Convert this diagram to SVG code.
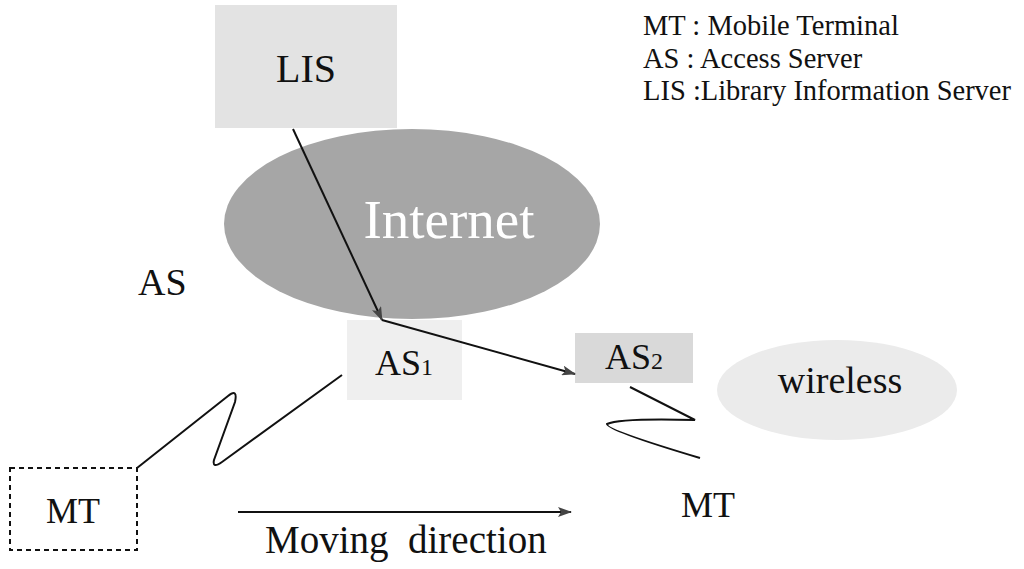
<svg xmlns="http://www.w3.org/2000/svg" width="1024" height="569" viewBox="0 0 1024 569">
<style>
text{font-family:"Liberation Serif","Times New Roman",serif;fill:#111;}
.lbl{font-size:36px;}
.leg{font-size:28.5px;}
.conn{stroke:#111;stroke-width:2;fill:none;}
</style>
<defs>
<marker id="ah" markerWidth="14" markerHeight="10" refX="13" refY="5" orient="auto" markerUnits="userSpaceOnUse">
<path d="M0,0 L14,5 L0,10 L3,5 Z" fill="#444"/>
</marker>
</defs>
<rect width="1024" height="569" fill="#fff"/>
<g id="internet">
<ellipse cx="412" cy="224" rx="188" ry="95" fill="#a6a6a6"/>
<text x="449" y="238" text-anchor="middle" style="font-size:55px;fill:#fff">Internet</text>
</g>
<g id="lis">
<rect x="215" y="5" width="182" height="123" fill="#e3e3e3"/>
<text x="306" y="82" text-anchor="middle" style="font-size:40px">LIS</text>
</g>
<g id="as1">
<rect x="347" y="320" width="115" height="80" fill="#efefef"/>
<text x="375" y="375" class="lbl">AS<tspan style="font-size:24px">1</tspan></text>
</g>
<g id="as2">
<rect x="575" y="333" width="118" height="50" fill="#d9d9d9"/>
<text x="605" y="369" class="lbl">AS<tspan style="font-size:24px">2</tspan></text>
</g>
<g id="wireless">
<ellipse cx="837" cy="390" rx="120" ry="50" fill="#ebebeb"/>
<text x="840" y="393" text-anchor="middle" style="font-size:38px">wireless</text>
</g>
<g id="mt1">
<rect x="10" y="468" width="127" height="82" fill="none" stroke="#111" stroke-width="2" stroke-dasharray="5,4"/>
<text x="73" y="523" text-anchor="middle" class="lbl">MT</text>
</g>
<g id="mt2">
<text x="708" y="517" text-anchor="middle" class="lbl">MT</text>
</g>
<g id="as-label">
<text x="138" y="295" class="lbl" style="font-size:38px">AS</text>
</g>
<g id="legend">
<text x="643" y="35" class="leg">MT : Mobile Terminal</text>
<text x="643" y="68" class="leg">AS : Access Server</text>
<text x="643" y="100" class="leg">LIS :Library Information Server</text>
</g>
<g id="connectors">
<line x1="293" y1="129" x2="382" y2="320" class="conn" marker-end="url(#ah)"/>
<line x1="382" y1="320" x2="575" y2="374" class="conn" marker-end="url(#ah)"/>
<line x1="238" y1="512" x2="571" y2="512" class="conn" marker-end="url(#ah)"/>
<path d="M137,468 L228,396 Q238,388 235,402 L214,460 Q212,469 222,462 L342,375" class="conn"/>
<path d="M630,387 L695,420 Q620,418 607,424 Q606,430 700,458" class="conn"/>
<text x="265" y="553" class="lbl" xml:space="preserve" style="font-size:39px">Moving  direction</text>
</g>
</svg>
